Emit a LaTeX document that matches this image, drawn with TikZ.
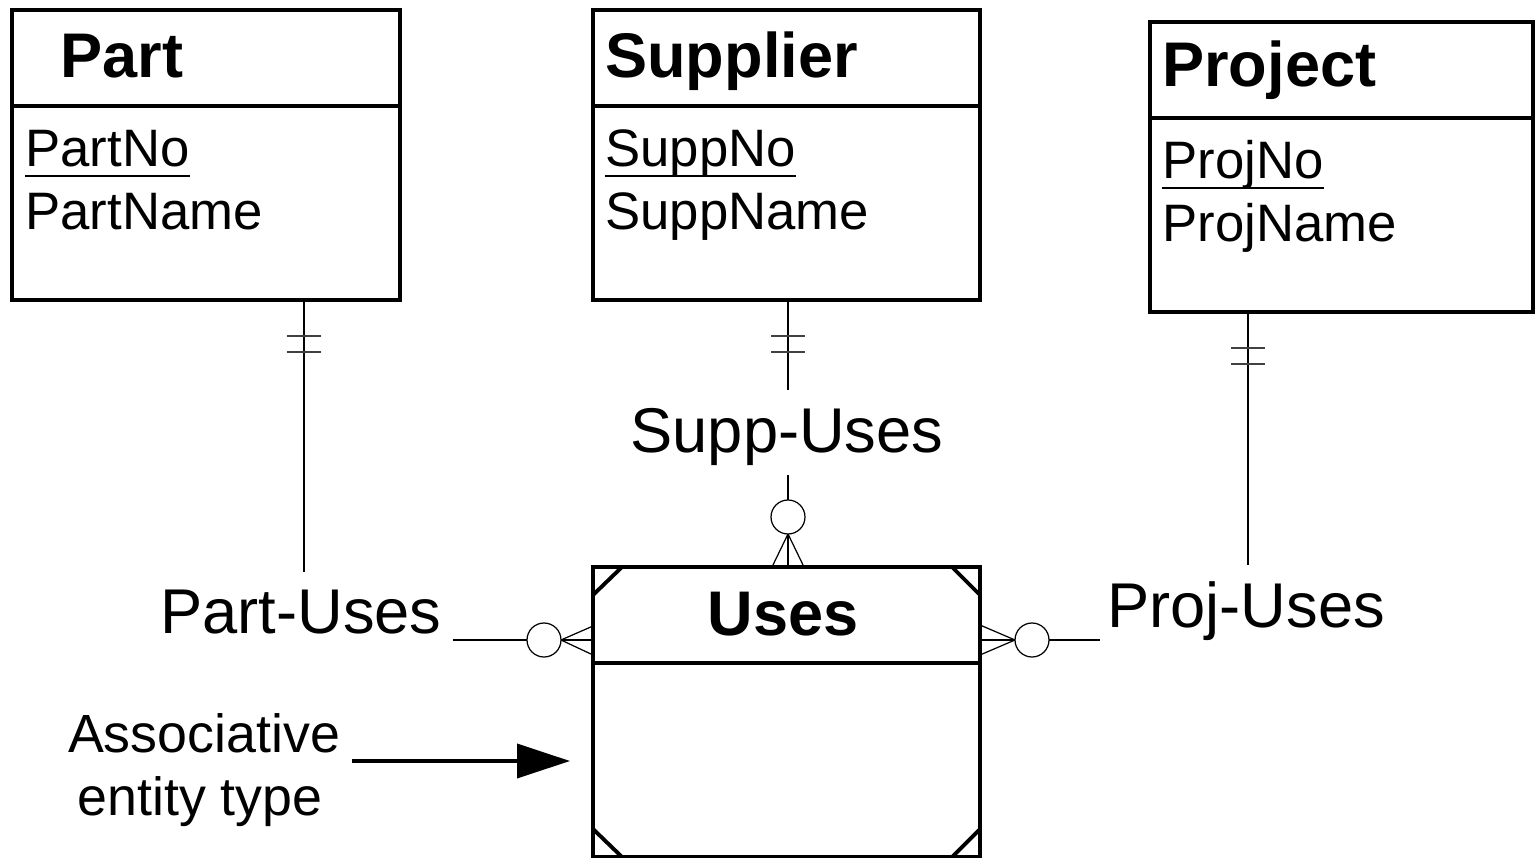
\documentclass[tikz,border=0pt]{standalone}
\usepackage{fontspec}
\setmainfont{Liberation Sans}
\usetikzlibrary{arrows.meta}
\begin{document}
\begin{tikzpicture}[x=0.02cm,y=-0.02cm,
  entity/.style={draw,line width=2.2pt,rectangle,inner sep=0pt,outer sep=0pt,minimum height=5.8cm},
  heavy/.style={line width=2.2pt},
  rel/.style={line width=0.7pt},
  tick/.style={line width=0.8pt,black!75},
  opt/.style={draw,circle,line width=0.7pt,minimum size=0.68cm,inner sep=0pt,outer sep=0pt},
  title/.style={inner sep=0pt,anchor=base west,font=\fontsize{35.9}{40}\selectfont\bfseries},
  attr/.style={inner sep=0pt,anchor=base west,font=\fontsize{30}{36}\selectfont},
  lbl/.style={inner sep=0pt,anchor=base,font=\fontsize{36}{42}\selectfont},
  note/.style={inner sep=0pt,anchor=base,font=\fontsize{30.6}{36}\selectfont},
  ul/.style={line width=1pt}]
\useasboundingbox (0,0) rectangle (1535,858);
\fill[white] (0,0) rectangle (1535,858);

% entity boxes
\node[entity,minimum width=7.76cm] (Part) at (206,155) {};
\node[entity,minimum width=7.74cm] (Supplier) at (786.5,155) {};
\node[entity,minimum width=7.66cm] (Project) at (1341.5,167) {};
\node[entity,minimum width=7.74cm] (Uses) at (786.5,712) {};

% header lines
\draw[heavy] (Part.west |- 0,106) -- (Part.east |- 0,106);
\draw[heavy] (Supplier.west |- 0,106) -- (Supplier.east |- 0,106);
\draw[heavy] (Project.west |- 0,118) -- (Project.east |- 0,118);
\draw[heavy] (Uses.west |- 0,663) -- (Uses.east |- 0,663);

% associative corners
\draw[heavy] (593,595) -- (622,567);
\draw[heavy] (952,567) -- (980,595);
\draw[heavy] (593,829) -- (622,857);
\draw[heavy] (952,857) -- (980,829);

% titles
\node[title] (tPart) at (60,78) {Part};
\node[title] (tSupp) at (605,78) {Supplier};
\node[title] (tProj) at (1162,87) {Project};
\node[inner sep=0pt,anchor=base,font=\fontsize{35.9}{40}\selectfont\bfseries] (tUses) at (783,635) {Uses};

% attributes
\node[attr] (PartNo) at (25,167) {PartNo};
\node[attr] (PartName) at (25,230) {PartName};
\node[attr] (SuppNo) at (605,167) {SuppNo};
\node[attr] (SuppName) at (605,230) {SuppName};
\node[attr] (ProjNo) at (1162,179) {ProjNo};
\node[attr] (ProjName) at (1162,242) {ProjName};
\draw[ul] ([yshift=-0.18cm]PartNo.base west) -- ([yshift=-0.18cm]PartNo.base east);
\draw[ul] ([yshift=-0.18cm]SuppNo.base west) -- ([yshift=-0.18cm]SuppNo.base east);
\draw[ul] ([yshift=-0.18cm]ProjNo.base west) -- ([yshift=-0.18cm]ProjNo.base east);

% relationship labels
\node[lbl] (SU) at (787,452) {Supp-Uses};
\node[lbl] (PU) at (301,633) {Part-Uses};
\node[lbl] (JU) at (1246,627) {Proj-Uses};

% Part -- Part-Uses -- Uses
\coordinate (puTop) at (304,572);
\draw[rel] (Part.south -| puTop) -- (puTop);
\draw[tick] (287,336) -- (321,336);
\draw[tick] (287,352) -- (321,352);
\node[opt] (cP) at (544,640) {};
\coordinate (puEnd) at (453,640);
\draw[rel] (puEnd) -- (cP.west);
\draw[rel] (cP.east) -- (Uses.west |- 0,626);
\draw[rel] (cP.east) -- (Uses.west |- 0,640);
\draw[rel] (cP.east) -- (Uses.west |- 0,655);

% Supplier -- Supp-Uses -- Uses
\coordinate (suTop) at (788,390);
\draw[rel] (Supplier.south -| suTop) -- (suTop);
\draw[tick] (771,336) -- (805,336);
\draw[tick] (771,352) -- (805,352);
\node[opt] (cS) at (788,517) {};
\coordinate (suBot) at (788,475);
\draw[rel] (suBot) -- (cS.north);
\draw[rel] (cS.south) -- (772,567);
\draw[rel] (cS.south) -- (Uses.north -| cS);
\draw[rel] (cS.south) -- (804,567);

% Project -- Proj-Uses -- Uses
\coordinate (juTop) at (1248,565);
\draw[rel] (Project.south -| juTop) -- (juTop);
\draw[tick] (1231,348) -- (1265,348);
\draw[tick] (1231,364) -- (1265,364);
\node[opt] (cJ) at (1032,640) {};
\coordinate (juEnd) at (1100,640);
\draw[rel] (cJ.east) -- (juEnd);
\draw[rel] (cJ.west) -- (Uses.east |- 0,625);
\draw[rel] (cJ.west) -- (Uses.east |- 0,640);
\draw[rel] (cJ.west) -- (Uses.east |- 0,655);

% note
\node[note] (AE1) at (204,752) {Associative};
\node[note] (AE2) at (200,815) {entity type};
\coordinate (arrS) at (352,761);
\coordinate (arrE) at (570,761);
\draw[line width=2.2pt,-{Triangle[length=1.06cm,width=0.68cm]}] (arrS) -- (arrE);
\end{tikzpicture}
\end{document}
